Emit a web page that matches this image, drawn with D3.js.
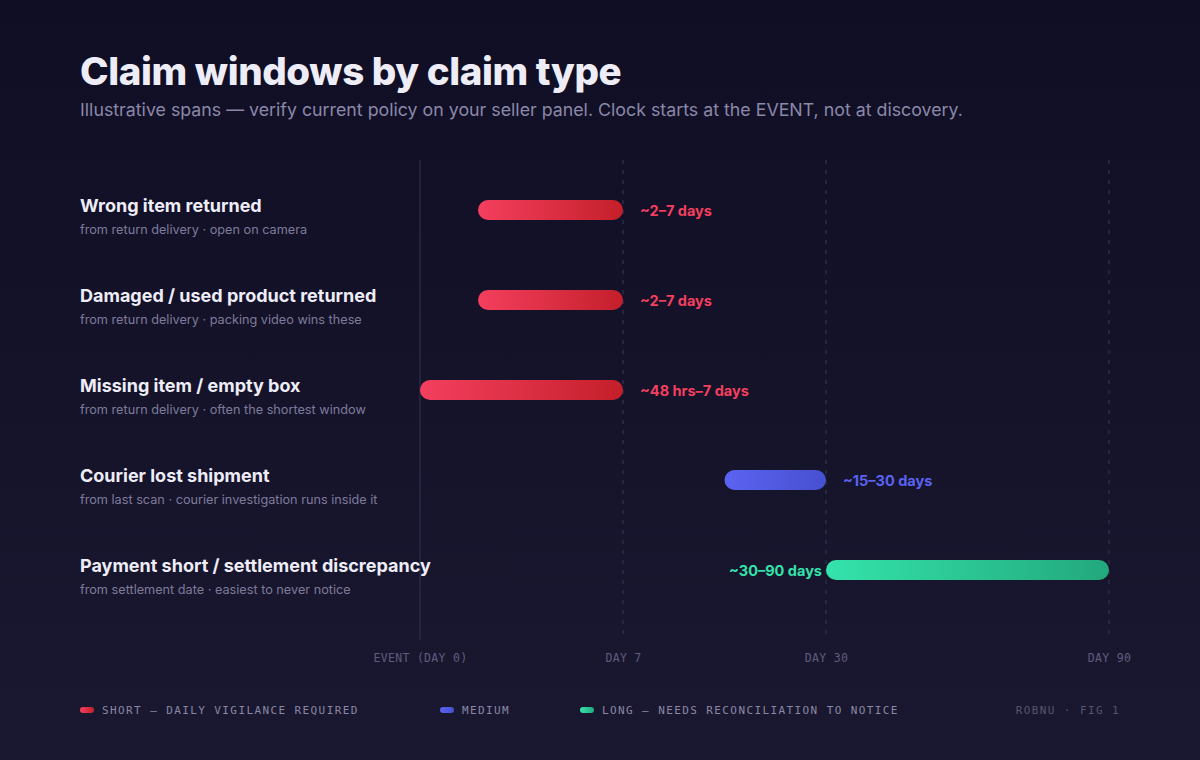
<!DOCTYPE html>
<html>
<head>
<meta charset="utf-8">
<script src="https://cdn.jsdelivr.net/npm/d3@7"></script>
<style>
html, body { margin: 0; padding: 0; background: #12112a; }
svg { display: block; }
</style>
</head>
<body>
<svg width="1200" height="760"></svg>
<script>
// data
var claims = ["Wrong item returned", "Damaged / used product returned", "Missing item / empty box", "Courier lost shipment", "Payment short / settlement discrepancy"];
var notes = ["from return delivery · open on camera", "from return delivery · packing video wins these", "from return delivery · often the shortest window", "from last scan · courier investigation runs inside it", "from settlement date · easiest to never notice"];
var startDay = [2, 2, 0, 18.5, 30];
var endDay = [7, 7, 7, 30, 90];
var spanLabels = ["~2–7 days", "~2–7 days", "~48 hrs–7 days", "~15–30 days", "~30–90 days"];
var kinds = ["short", "short", "short", "medium", "long"];
var tickDays = [0, 7, 30, 90];
var tickLabels = ["EVENT (DAY 0)", "DAY 7", "DAY 30", "DAY 90"];
var legendLabels = ["SHORT — DAILY VIGILANCE REQUIRED", "MEDIUM", "LONG — NEEDS RECONCILIATION TO NOTICE"];

var svg = d3.select("svg"),
  width = +svg.attr("width"),
  height = +svg.attr("height");

var colors = {
  short: { a: "#f43f5e", b: "#c41f2a", text: "#f43f5e" },
  medium: { a: "#5b63f2", b: "#4750cf", text: "#5b63f2" },
  long: { a: "#34e3ab", b: "#22a87c", text: "#34e3ab" }
};

var defs = svg.append("defs");
var bg = defs.append("linearGradient").attr("id", "bg").attr("x1", 0).attr("y1", 0).attr("x2", 0).attr("y2", 1);
bg.append("stop").attr("offset", "0%").attr("stop-color", "#0f0e24");
bg.append("stop").attr("offset", "100%").attr("stop-color", "#1a1830");

Object.keys(colors).forEach(function (k) {
  var gr = defs.append("linearGradient").attr("id", "g-" + k).attr("x1", 0).attr("x2", 1).attr("y1", 0).attr("y2", 0);
  gr.append("stop").attr("offset", "0%").attr("stop-color", colors[k].a);
  gr.append("stop").attr("offset", "100%").attr("stop-color", colors[k].b);
});

svg.append("rect").attr("width", width).attr("height", height).attr("fill", "url(#bg)");

var sans = "Inter, 'Noto Sans', sans-serif";
var mono = "'DejaVu Sans Mono', 'Liberation Mono', monospace";

// title
svg.append("text").attr("x", 80).attr("y", 85)
  .attr("font-family", sans).attr("font-weight", 800).attr("font-size", 38.5)
  .attr("letter-spacing", "-0.4").attr("fill", "#eeedf7")
  .text("Claim windows by claim type");
svg.append("text").attr("x", 80).attr("y", 116)
  .attr("font-family", sans).attr("font-size", 17.8).attr("fill", "#8b88a8")
  .text("Illustrative spans — verify current policy on your seller panel. Clock starts at the EVENT, not at discovery.");

// scales
var x = d3.scaleLinear().domain(tickDays).range([420, 623, 826, 1109]);
var y = d3.scaleBand().domain(claims).range([165, 615]);

// grid
svg.selectAll(".grid").data(tickDays).enter().append("line")
  .attr("x1", function (d) { return x(d); })
  .attr("x2", function (d) { return x(d); })
  .attr("y1", 160).attr("y2", 640)
  .attr("stroke", function (d) { return d === 0 ? "#2a2944" : "#2e2c48"; })
  .attr("stroke-width", 1.5)
  .attr("stroke-dasharray", function (d) { return d === 0 ? null : "4,6"; });

// axis labels
var axis = svg.append("g").attr("transform", "translate(0,659)")
  .call(d3.axisBottom(x).tickValues(tickDays).tickSize(0).tickFormat(function (d, i) { return tickLabels[i]; }));
axis.select(".domain").remove();
axis.selectAll("text").attr("font-family", mono).attr("font-size", 11.5)
  .attr("letter-spacing", "0.3")
  .attr("fill", "#5f5c7e").attr("dy", "0");

// rows
var rows = svg.selectAll(".row").data(claims).enter().append("g")
  .attr("transform", function (d) { return "translate(0," + (y(d) + y.bandwidth() / 2) + ")"; });

rows.append("text").attr("x", 80).attr("y", 2)
  .attr("font-family", sans).attr("font-weight", 700).attr("font-size", 18)
  .attr("fill", "#eeedf7").text(function (d) { return d; });
rows.append("text").attr("x", 80).attr("y", 24)
  .attr("font-family", sans).attr("font-size", 12.7)
  .attr("fill", "#7e7b9a").text(function (d, i) { return notes[i]; });

rows.append("rect")
  .attr("x", function (d, i) { return x(startDay[i]); })
  .attr("y", -10).attr("height", 20).attr("rx", 10)
  .attr("width", function (d, i) { return x(endDay[i]) - x(startDay[i]); })
  .attr("fill", function (d, i) { return "url(#g-" + kinds[i] + ")"; });

rows.append("text")
  .attr("x", function (d, i) { return kinds[i] === "long" ? x(startDay[i]) - 4 : x(endDay[i]) + 17; })
  .attr("y", 6)
  .attr("text-anchor", function (d, i) { return kinds[i] === "long" ? "end" : "start"; })
  .attr("font-family", sans).attr("font-weight", 700).attr("font-size", 14.5)
  .attr("fill", function (d, i) { return colors[kinds[i]].text; })
  .text(function (d, i) { return spanLabels[i]; });

// legend
var legendX = [80, 440, 580];
var legendKinds = ["short", "medium", "long"];
var leg = svg.selectAll(".leg").data(legendLabels).enter().append("g")
  .attr("transform", function (d, i) { return "translate(" + legendX[i] + ",710)"; });
leg.append("rect").attr("x", 0).attr("y", -3).attr("width", 14).attr("height", 6).attr("rx", 3)
  .attr("fill", function (d, i) { return "url(#g-" + legendKinds[i] + ")"; });
leg.append("text").attr("x", 22).attr("y", 4)
  .attr("font-family", mono).attr("font-size", 11).attr("letter-spacing", "1.4")
  .attr("fill", "#8a87a6").text(function (d) { return d; });

svg.append("text").attr("x", 1120).attr("y", 714).attr("text-anchor", "end")
  .attr("font-family", mono).attr("font-size", 11).attr("letter-spacing", "1.4")
  .attr("fill", "#56536f").text("ROBNU · FIG 1");
</script>
</body>
</html>
